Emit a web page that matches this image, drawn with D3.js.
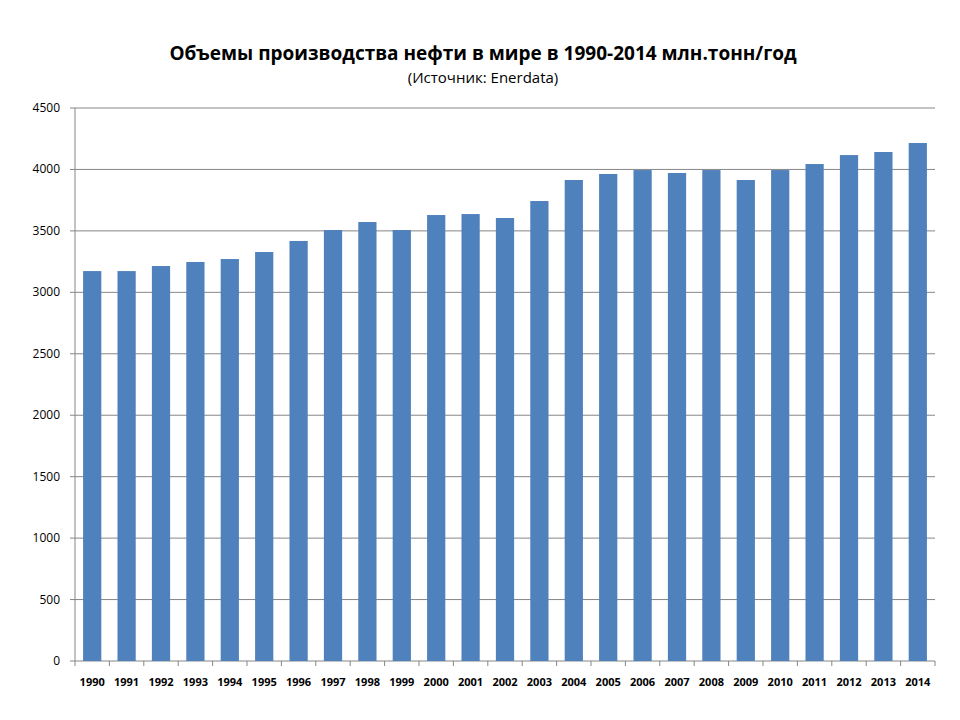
<!DOCTYPE html>
<html><head><meta charset="utf-8">
<script src="https://cdn.jsdelivr.net/npm/d3@7"></script>
<style>body{margin:0;background:#fff}text{font-family:"Open Sans",Calibri,sans-serif}</style>
</head><body><svg id="c" width="960" height="720"></svg>
<script>
const years=["1990","1991","1992","1993","1994","1995","1996","1997","1998","1999","2000","2001","2002","2003","2004","2005","2006","2007","2008","2009","2010","2011","2012","2013","2014"];
const values=[3173,3173,3214,3247,3271,3328,3418,3507,3572,3507,3629,3637,3605,3743,3914,3963,3995,3971,3995,3914,3995,4044,4117,4142,4215];
const yTicks=[0,500,1000,1500,2000,2500,3000,3500,4000,4500];
const svg=d3.select("#c");
const L=75,R=935,T=108,B=661;
const x=d3.scaleBand().domain(years).range([L,R]).paddingInner(0.47).paddingOuter(0.235);
const y=d3.scaleLinear().domain([0,4500]).range([B,T]);
svg.append("g").selectAll("line").data(yTicks).join("line")
 .attr("x1",L).attr("x2",R).attr("y1",d=>y(d)).attr("y2",d=>y(d)).attr("stroke","#868686").attr("stroke-width",1);
svg.append("line").attr("x1",L).attr("x2",L).attr("y1",T).attr("y2",B).attr("stroke","#868686");
svg.append("g").selectAll("rect").data(values).join("rect")
 .attr("x",(d,i)=>x(years[i])).attr("width",x.bandwidth()).attr("y",d=>y(d)).attr("height",d=>B-y(d)).attr("fill","#4f81bd");
const xb=d3.scaleBand().domain(years).range([L,R]);
svg.append("g").selectAll("line").data(years.concat(["end"])).join("line")
 .attr("x1",(d,i)=>L+i*xb.step()).attr("x2",(d,i)=>L+i*xb.step()).attr("y1",B).attr("y2",B+5).attr("stroke","#868686");
svg.append("g").selectAll("line").data(yTicks).join("line")
 .attr("x1",L-5).attr("x2",L).attr("y1",d=>y(d)).attr("y2",d=>y(d)).attr("stroke","#868686");
svg.append("g").selectAll("text").data(yTicks).join("text")
 .attr("x",L-15).attr("y",d=>y(d)+4).attr("text-anchor","end").attr("font-size",12).text(d=>d);
svg.append("g").selectAll("text").data(years).join("text")
 .attr("x",d=>xb(d)+xb.step()/2).attr("y",686).attr("text-anchor","middle").attr("font-size",11).attr("font-weight","bold").text(d=>d);
svg.append("text").attr("x",483).attr("y",60).attr("text-anchor","middle").attr("font-size",19).attr("font-weight","bold").text("Объемы производства нефти в мире в 1990-2014 млн.тонн/год");
svg.append("text").attr("x",483).attr("y",83).attr("text-anchor","middle").attr("font-size",15).text("(Источник: Enerdata)");
</script></body></html>
